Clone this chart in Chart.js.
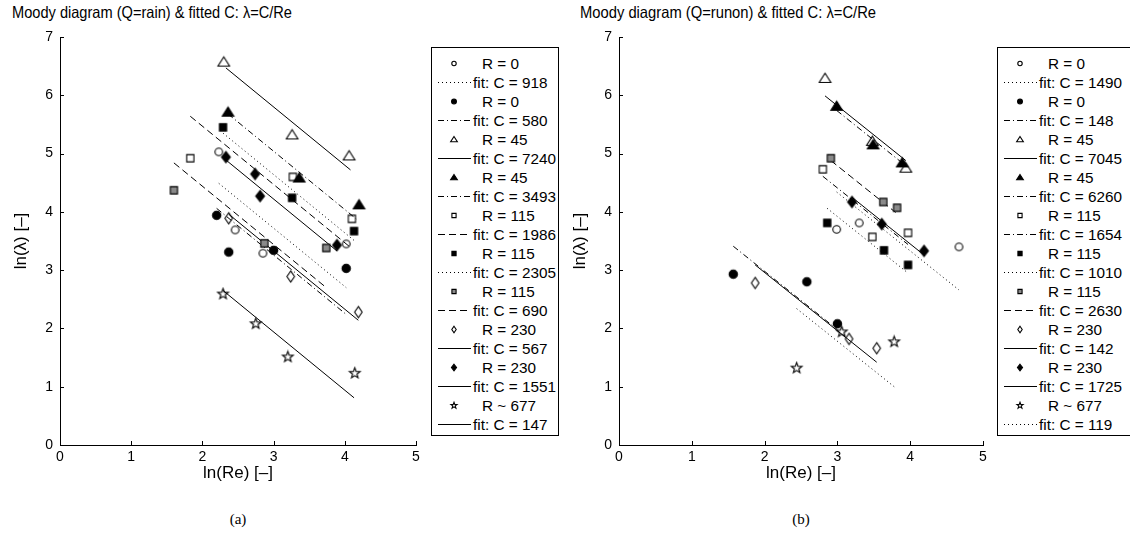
<!DOCTYPE html>
<html><head><meta charset="utf-8">
<script src="https://cdn.jsdelivr.net/npm/chart.js@4.4.0/dist/chart.umd.min.js"></script>
<style>
html,body{margin:0;padding:0;background:#fff;}
body{width:1130px;height:534px;position:relative;overflow:hidden;font-family:"Liberation Sans",Arial,sans-serif;color:#000;}
.title{position:absolute;top:3px;font-size:16.5px;white-space:nowrap;transform-origin:0 0;line-height:19px;}
canvas{position:absolute;top:0;}
.legend{position:absolute;top:47px;border:1px solid #000;background:#fff;padding-top:6px;box-sizing:border-box;height:389px;}
.row{height:19px;line-height:19px;font-size:15.3px;white-space:nowrap;position:relative;}
.row span{position:absolute;left:41px;}
.row.r span{left:50px;}
.cap{position:absolute;top:511px;font-family:"Liberation Serif",serif;font-size:15px;transform:translateX(-50%);}
</style></head>
<body>
<div class="title" id="tA">Moody diagram (Q=rain) &amp; fitted C: λ=C/Re</div>
<div class="title" id="tB">Moody diagram (Q=runon) &amp; fitted C: λ=C/Re</div>
<canvas id="cA" width="430" height="490" style="left:0px;width:430px;height:490px"></canvas>
<canvas id="cB" width="440" height="490" style="left:559px;width:440px;height:490px"></canvas>
<div class="legend" id="lA" style="left:431px;width:128px"></div>
<div class="legend" id="lB" style="left:997px;width:136px"></div>
<div class="cap" style="left:238px">(a)</div>
<div class="cap" style="left:801px">(b)</div>
<script>
// ---------- data ----------
const xTicks = [0, 1, 2, 3, 4, 5];
const yTicks = [0, 1, 2, 3, 4, 5, 6, 7];

const seriesLabels = ['R = 0', 'R = 0', 'R = 45', 'R = 45', 'R = 115', 'R = 115', 'R = 115', 'R = 230', 'R = 230', 'R ~ 677'];
const fitLabelsA = ['fit: C = 918', 'fit: C = 580', 'fit: C = 7240', 'fit: C = 3493', 'fit: C = 1986', 'fit: C = 2305', 'fit: C = 690', 'fit: C = 567', 'fit: C = 1551', 'fit: C = 147'];
const fitLabelsB = ['fit: C = 1490', 'fit: C = 148', 'fit: C = 7045', 'fit: C = 6260', 'fit: C = 1654', 'fit: C = 1010', 'fit: C = 2630', 'fit: C = 142', 'fit: C = 1725', 'fit: C = 119'];

// (a) Q = rain : points [ln(Re), ln(lambda)]
const a_R0_open   = [[2.23,5.03],[2.46,3.69],[2.85,3.29],[4.02,3.45]];
const a_R0_fill   = [[2.20,3.94],[2.37,3.31],[3.00,3.34],[4.02,3.03]];
const a_R45_open  = [[2.30,6.57],[3.26,5.32],[4.06,4.96]];
const a_R45_fill  = [[2.36,5.71],[3.36,4.58],[4.20,4.12]];
const a_R115_open = [[1.83,4.92],[3.27,4.60],[4.10,3.88]];
const a_R115_fill = [[2.29,5.45],[3.26,4.24],[4.13,3.67]];
const a_R115_gray = [[1.60,4.37],[2.87,3.46],[3.74,3.38]];
const a_R230_open = [[2.37,3.89],[3.24,2.89],[4.19,2.28]];
const a_R230_fill = [[2.33,4.94],[2.74,4.65],[2.81,4.27],[3.89,3.43]];
const a_R677      = [[2.29,2.59],[2.75,2.08],[3.20,1.51],[4.14,1.23]];
// (a) fitted lines: [start, end]
const a_fit918  = [[2.23,4.49],[4.02,2.70]];
const a_fit580  = [[2.20,4.06],[4.02,2.24]];
const a_fit7240 = [[2.33,6.47],[4.08,4.72]];
const a_fit3493 = [[2.36,5.68],[4.16,3.88]];
const a_fit1986 = [[1.83,5.64],[4.10,3.37]];
const a_fit2305 = [[2.29,5.35],[4.13,3.51]];
const a_fit690  = [[1.60,4.84],[3.74,2.70]];
const a_fit567  = [[2.37,3.96],[4.19,2.14]];
const a_fit1551 = [[2.33,4.89],[3.89,3.33]];
const a_fit147  = [[2.29,2.65],[4.13,0.81]];

// (b) Q = runon
const b_R0_open   = [[2.99,3.70],[3.30,3.81],[4.67,3.40]];
const b_R0_fill   = [[1.57,2.93],[2.58,2.80],[3.00,2.08]];
const b_R45_open  = [[2.83,6.29],[3.48,5.21],[3.94,4.75]];
const b_R45_fill  = [[2.99,5.81],[3.49,5.15],[3.89,4.84]];
const b_R115_open = [[2.80,4.73],[3.48,3.57],[3.97,3.64]];
const b_R115_fill = [[2.86,3.81],[3.64,3.34],[3.97,3.09]];
const b_R115_gray = [[2.91,4.92],[3.63,4.17],[3.82,4.07]];
const b_R230_open = [[1.87,2.78],[3.16,1.82],[3.54,1.66]];
const b_R230_fill = [[3.20,4.17],[3.61,3.79],[4.19,3.33]];
const b_R677      = [[2.44,1.32],[3.06,1.94],[3.78,1.77]];
const b_fit1490 = [[2.99,4.34],[4.67,2.66]];
const b_fit148  = [[1.57,3.41],[3.00,1.98]];
const b_fit7045 = [[2.83,5.99],[3.94,4.88]];
const b_fit6260 = [[2.99,5.74],[3.89,4.84]];
const b_fit1654 = [[2.80,4.61],[3.97,3.44]];
const b_fit1010 = [[2.86,4.06],[3.97,2.95]];
const b_fit2630 = [[2.91,4.88],[3.80,3.99]];
const b_fit142  = [[1.87,3.09],[3.54,1.42]];
const b_fit1725 = [[3.20,4.25],[4.20,3.25]];
const b_fit119  = [[2.44,2.34],[3.78,1.00]];

// ---------- styles ----------
const markerKinds = ['circleOpen','circleFill','triOpen','triFill','sqOpen','sqFill','sqGray','diaOpen','diaFill','star'];
const DOT = [1,3], DASH = [7,4], DASHDOT = [6,3,1,3], SOLID = [];
const dashA = [DOT, DASHDOT, SOLID, DASHDOT, DASH, DOT, DASH, SOLID, SOLID, SOLID];
const dashB = [DOT, DASHDOT, SOLID, DASHDOT, DASHDOT, DOT, DASH, SOLID, SOLID, DOT];

const GRAY = '#8a8a8a';

function drawShape(g, kind, cx, cy, s) {
  g.beginPath();
  if (kind.startsWith('circle')) {
    g.arc(cx, cy, kind === 'circleFill' ? 4.2*s : 3.8*s, 0, Math.PI*2);
  } else if (kind.startsWith('tri')) {
    g.moveTo(cx, cy-5.2*s); g.lineTo(cx+5.8*s, cy+4*s); g.lineTo(cx-5.8*s, cy+4*s); g.closePath();
  } else if (kind.startsWith('sq')) {
    g.rect(cx-3.6*s, cy-3.6*s, 7.2*s, 7.2*s);
  } else if (kind.startsWith('dia')) {
    const w = kind === 'diaFill' ? 4.4*s : 3.8*s, h = 5.6*s;
    g.moveTo(cx, cy-h); g.lineTo(cx+w, cy); g.lineTo(cx, cy+h); g.lineTo(cx-w, cy); g.closePath();
  } else {
    const R = 5.6*s, r = 2.3*s;
    for (let i=0;i<10;i++){ const rr = i%2?r:R; const a = -Math.PI/2 + i*Math.PI/5;
      const px = cx + rr*Math.cos(a), py = cy + rr*Math.sin(a);
      i?g.lineTo(px,py):g.moveTo(px,py);} g.closePath();
  }
  g.lineWidth = 1.1; g.strokeStyle = '#000';
  if (kind.endsWith('Fill')) { g.fillStyle = '#000'; g.fill(); }
  if (kind === 'sqGray') { g.fillStyle = GRAY; g.fill(); }
  g.stroke();
}
function markerCanvas(kind) {
  const c = document.createElement('canvas'); c.width = 15; c.height = 15;
  drawShape(c.getContext('2d'), kind, 7.5, 7.5, 1);
  return c;
}
function markerSample(kind) {
  const c = document.createElement('canvas'); c.width = 36; c.height = 19;
  drawShape(c.getContext('2d'), kind, 18, 9.5, 0.58);
  return c;
}
function lineSample(dash) {
  const c = document.createElement('canvas'); c.width = 36; c.height = 19;
  const g = c.getContext('2d'); g.setLineDash(dash); g.strokeStyle = '#000'; g.lineWidth = 1;
  g.beginPath(); g.moveTo(2, 9.5); g.lineTo(35, 9.5); g.stroke();
  return c;
}

const toXY = arr => arr.map(p => ({x: p[0], y: p[1]}));

const inwardTicks = {
  id: 'inwardTicks',
  afterDraw(chart) {
    const {ctx, chartArea: a, scales: {x, y}} = chart;
    ctx.save(); ctx.strokeStyle = '#000'; ctx.lineWidth = 1;
    x.ticks.forEach(t => { const px = Math.round(x.getPixelForValue(t.value)) + 0.5;
      ctx.beginPath(); ctx.moveTo(px, a.bottom); ctx.lineTo(px, a.bottom - 4); ctx.stroke(); });
    y.ticks.forEach(t => { const py = Math.round(y.getPixelForValue(t.value)) + 0.5;
      ctx.beginPath(); ctx.moveTo(a.left, py); ctx.lineTo(a.left + 4, py); ctx.stroke(); });
    ctx.restore();
  }
};

function makeChart(id, points, fits, dashes, fitLabels, padRight) {
  const datasets = [];
  points.forEach((pts, i) => {
    datasets.push({type: 'line', label: fitLabels[i], data: toXY(fits[i]), borderColor: '#000',
      borderWidth: 1, borderDash: dashes[i], pointRadius: 0, fill: false, tension: 0, order: 2});
    datasets.push({type: 'scatter', label: seriesLabels[i], data: toXY(pts), showLine: false,
      pointStyle: markerCanvas(markerKinds[i]), pointRadius: 6, order: 1});
  });
  return new Chart(document.getElementById(id), {
    data: {datasets},
    options: {
      responsive: false, animation: false, devicePixelRatio: 1,
      layout: {padding: {left: 0, right: padRight, top: 37, bottom: 5}},
      plugins: {legend: {display: false}, tooltip: {enabled: false}},
      scales: {
        x: {type: 'linear', position: 'bottom', min: 0, max: 5,
          afterFit(s) { s.height = 40; },
          afterBuildTicks(s) { s.ticks = xTicks.map(v => ({value: v})); },
          ticks: {color: '#000', font: {family: 'Liberation Sans', size: 14}, padding: 4, maxRotation: 0},
          grid: {display: true, drawOnChartArea: false, drawTicks: false},
          border: {display: true, color: '#000', width: 1},
          title: {display: true, text: 'ln(Re) [–]', color: '#000', font: {family: 'Liberation Sans', size: 17}, padding: {top: 0, bottom: 1}}},
        y: {type: 'linear', position: 'left', min: 0, max: 7,
          afterFit(s) { s.width = 60; },
          afterBuildTicks(s) { s.ticks = yTicks.map(v => ({value: v})); },
          ticks: {color: '#000', font: {family: 'Liberation Sans', size: 14}, padding: 7},
          grid: {display: true, drawOnChartArea: false, drawTicks: false},
          border: {display: true, color: '#000', width: 1},
          title: {display: true, text: 'ln(λ) [–]', color: '#000', font: {family: 'Liberation Sans', size: 17}, padding: {top: 11, bottom: 0}}}
      }
    },
    plugins: [inwardTicks]
  });
}

const pointsA = [a_R0_open, a_R0_fill, a_R45_open, a_R45_fill, a_R115_open, a_R115_fill, a_R115_gray, a_R230_open, a_R230_fill, a_R677];
const fitsA = [a_fit918, a_fit580, a_fit7240, a_fit3493, a_fit1986, a_fit2305, a_fit690, a_fit567, a_fit1551, a_fit147];
const pointsB = [b_R0_open, b_R0_fill, b_R45_open, b_R45_fill, b_R115_open, b_R115_fill, b_R115_gray, b_R230_open, b_R230_fill, b_R677];
const fitsB = [b_fit1490, b_fit148, b_fit7045, b_fit6260, b_fit1654, b_fit1010, b_fit2630, b_fit142, b_fit1725, b_fit119];

makeChart('cA', pointsA, fitsA, dashA, fitLabelsA, 14);
makeChart('cB', pointsB, fitsB, dashB, fitLabelsB, 16);

function buildLegend(elId, fitLabels, dashes) {
  const el = document.getElementById(elId);
  seriesLabels.forEach((lab, i) => {
    const r1 = document.createElement('div'); r1.className = 'row r';
    const m = markerSample(markerKinds[i]); m.style.position = 'absolute'; m.style.left = '4px'; m.style.top = '0px';
    const s1 = document.createElement('span'); s1.textContent = lab;
    r1.appendChild(m); r1.appendChild(s1); el.appendChild(r1);
    const r2 = document.createElement('div'); r2.className = 'row';
    const l = lineSample(dashes[i]); l.style.position = 'absolute'; l.style.left = '4px'; l.style.top = '0px';
    const s2 = document.createElement('span'); s2.textContent = fitLabels[i];
    r2.appendChild(l); r2.appendChild(s2); el.appendChild(r2);
  });
}
buildLegend('lA', fitLabelsA, dashA);
buildLegend('lB', fitLabelsB, dashB);

function fitTitle(id, left, width) {
  const t = document.getElementById(id);
  t.style.left = left + 'px';
  const w = t.getBoundingClientRect().width;
  t.style.transform = 'scaleX(' + (width / w) + ')';
}
fitTitle('tA', 12, 280);
fitTitle('tB', 580, 296);
</script>
</body></html>
